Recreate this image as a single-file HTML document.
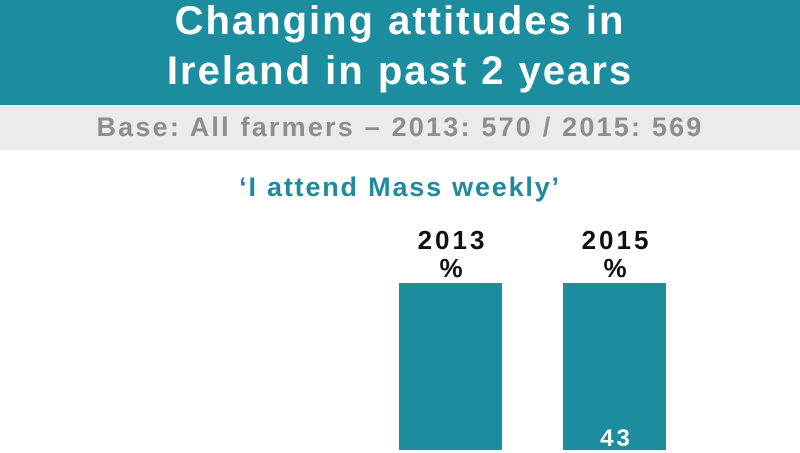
<!DOCTYPE html>
<html><head><style>
body{margin:0;width:800px;height:450px;overflow:hidden;background:#fff;position:relative;font-family:"Liberation Sans",sans-serif;font-weight:bold}
.h{position:absolute;left:0;top:0;width:800px;height:105px;background:#1b8d9f}
.t{position:absolute;width:800px;text-align:center;color:#fff;font-size:40px;line-height:50px;letter-spacing:2px}
.g{position:absolute;left:0;top:105px;width:800px;height:45px;background:#ebebeb;color:#8e8e8e;font-size:27px;text-align:center;line-height:45px;letter-spacing:2.2px}
.q{position:absolute;top:172px;width:800px;text-align:center;color:#1f8a9b;font-size:27px;letter-spacing:1.8px}
.l{position:absolute;width:103px;text-align:center;color:#111;font-size:26px;line-height:28px;letter-spacing:3px}
.b{position:absolute;top:283px;height:167px;width:103px;background:#1b8d9f}
</style></head><body>
<div class="h"></div>
<div class="t" style="top:-4px">Changing attitudes in</div>
<div class="t" style="top:46px">Ireland in past 2 years</div>
<div class="g">Base: All farmers – 2013: 570 / 2015: 569</div>
<div class="q">‘I attend Mass weekly’</div>
<div class="l" style="left:401px;top:226px">2013<br>%</div>
<div class="l" style="left:565px;top:226px">2015<br>%</div>
<div class="b" style="left:399px"></div>
<div class="b" style="left:563px"></div>
<div class="l" style="left:565px;top:425px;color:#fff;font-size:24px">43</div>
</body></html>
